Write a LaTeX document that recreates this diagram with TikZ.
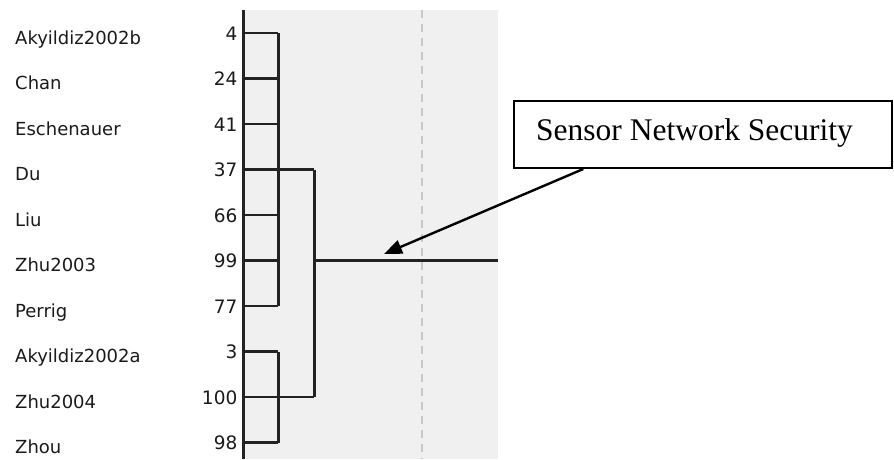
\documentclass[tikz,border=0pt]{standalone}
\usepackage{fontspec}
\setmainfont{Liberation Serif}
\newfontfamily\labelfont{DejaVu Sans}
\usetikzlibrary{arrows.meta,calc}

\definecolor{panelgray}{HTML}{F0F0F0}
\definecolor{treeline}{HTML}{222222}
\definecolor{guidegray}{HTML}{C8C8C8}
\definecolor{labelgray}{HTML}{1A1A1A}

\begin{document}
\begin{tikzpicture}[x=1pt,y=-1pt,
  doclabel/.style={font=\labelfont\fontsize{18}{18}\selectfont, text=labelgray, anchor=base west, inner sep=0pt},
  docid/.style={font=\labelfont\fontsize{18.5}{18.5}\selectfont, text=labelgray, anchor=base east, inner sep=0pt},
  branch/.style={draw=treeline, line width=2.6pt},
  trunk/.style={draw=treeline, line width=3pt},
  guide/.style={draw=guidegray, line width=1.2pt, dash pattern=on 8pt off 6pt},
  calloutbox/.style={draw=black, line width=2pt, fill=white, anchor=north west, inner sep=0pt},
  callouttext/.style={font=\fontsize{31.5}{31.5}\selectfont, anchor=base west, inner sep=0pt},
  pointer/.style={draw=black, line width=2.4pt, -{Triangle[length=18pt,width=14pt]}}]

\useasboundingbox (0,0) rectangle (894,459);

% plot area with its dashed guide
\fill[panelgray] (243,10) rectangle (498,459);
\draw[guide] (422,10) -- (422,459);

% join positions of the two merge levels
\coordinate (ca) at (278,0);
\coordinate (cb) at (314,0);
\coordinate (edge) at (498,0);

% documents: names on the left, ids beside the axis
\foreach \name/\id [count=\i] in {Akyildiz2002b/4, Chan/24, Eschenauer/41, Du/37, Liu/66,
    Zhu2003/99, Perrig/77, Akyildiz2002a/3, Zhu2004/100, Zhou/98} {
  \pgfmathsetmacro\yy{33+45.5*(\i-1)}
  \coordinate (r\i) at (243,\yy);
  \node[docid] (id\i) at (237.5,\yy+7) {\id};
  \node[doclabel] (lab\i) at (15,\yy+11) {\name};
}

% axis
\coordinate (axtop) at (243,10);
\coordinate (axbot) at (243,459);
\draw[trunk] (axtop) -- (axbot);

% first merge level
\foreach \i in {1,...,10} \draw[branch] (r\i) -- (r\i -| ca);
\draw[trunk] (r1 -| ca) -- (r7 -| ca);
\draw[trunk] (r8 -| ca) -- (r10 -| ca);

% second merge level and root
\draw[branch] (r4 -| ca) -- (r4 -| cb);
\draw[branch] (r9 -| ca) -- (r9 -| cb);
\draw[trunk] (r4 -| cb) -- (r9 -| cb);
\draw[trunk] (r6 -| cb) -- (r6 -| edge);

% callout
\node[calloutbox, minimum width=378pt, minimum height=67.5pt] (box) at (513,99.5) {};
\node[callouttext] (boxtext) at (536,140) {Sensor Network Security};
\coordinate (tip) at (384,254);
\draw[pointer] ($(box.south west)!0.185!(box.south east)$) -- (tip);
\end{tikzpicture}
\end{document}
